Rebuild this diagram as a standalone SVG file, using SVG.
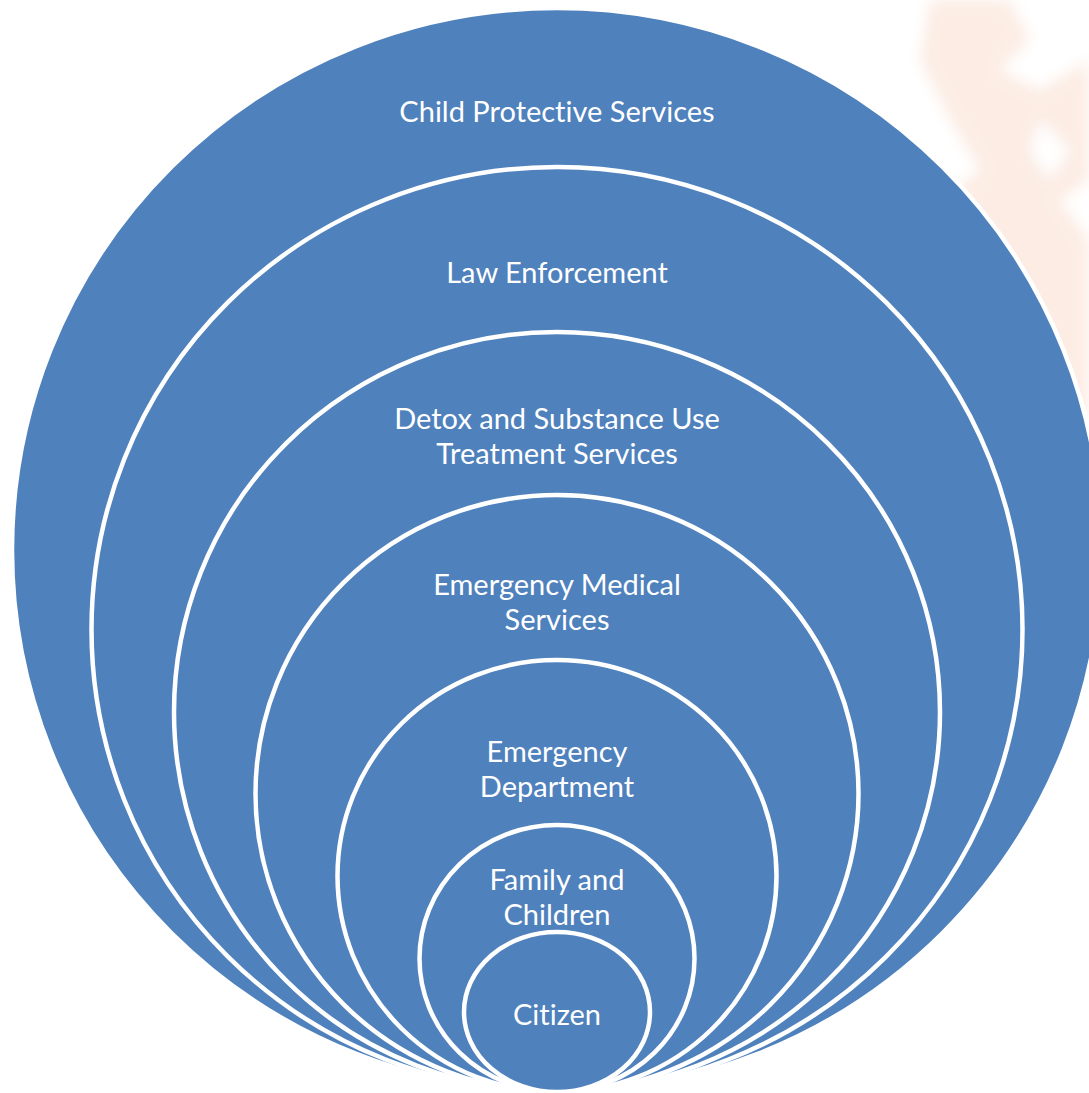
<svg xmlns="http://www.w3.org/2000/svg" width="1089" height="1093" viewBox="0 0 1089 1093">
<defs>
<style>
.ring{fill:#4f81bd;stroke:#ffffff;stroke-width:4.5}
.lbl{font-family:Lato,"Open Sans","Liberation Sans",sans-serif;font-size:29px;fill:#ffffff;text-anchor:middle;font-variant-ligatures:none;font-feature-settings:"liga" 0,"dlig" 0}
</style>
<filter id="blur" x="-20%" y="-20%" width="140%" height="140%"><feGaussianBlur stdDeviation="7"/></filter>
</defs>
<rect width="1089" height="1093" fill="#ffffff"/>
<g id="background" filter="url(#blur)" fill="#f8d2bd" opacity="0.4">
<path d="M930 0 L1010 0 L1030 40 L1000 70 L1040 90 L1089 60 L1089 180 L1060 200 L1089 240 L1089 420 L1040 380 L1000 300 L960 260 L940 200 L980 170 L950 120 L920 60 Z"/>
<path d="M1040 120 L1070 150 L1050 180 L1030 150 Z" fill="#ffffff"/>
</g>
<g id="node-cps"><ellipse class="ring" cx="557" cy="550" rx="545" ry="542"/><text class="lbl" x="557" y="122">Child Protective Services</text></g>
<g id="node-law"><ellipse class="ring" cx="557" cy="629.5" rx="465.5" ry="462.5"/><text class="lbl" x="557" y="283">Law Enforcement</text></g>
<g id="node-detox"><ellipse class="ring" cx="557" cy="712" rx="383" ry="380"/><text class="lbl" x="557" y="429">Detox and Substance Use</text><text class="lbl" x="557" y="464">Treatment Services</text></g>
<g id="node-ems"><ellipse class="ring" cx="557" cy="793.5" rx="301.5" ry="298.5"/><text class="lbl" x="557" y="595">Emergency Medical</text><text class="lbl" x="557" y="630">Services</text></g>
<g id="node-ed"><ellipse class="ring" cx="557" cy="876" rx="219.5" ry="216"/><text class="lbl" x="557" y="762">Emergency</text><text class="lbl" x="557" y="797">Department</text></g>
<g id="node-family"><ellipse class="ring" cx="557" cy="958.5" rx="137.5" ry="133.5"/><text class="lbl" x="557" y="890">Family and</text><text class="lbl" x="557" y="925">Children</text></g>
<g id="node-citizen"><ellipse class="ring" cx="557" cy="1012" rx="93" ry="80"/><text class="lbl" x="557" y="1025">Citizen</text></g>
<g id="connectors"/>
</svg>
